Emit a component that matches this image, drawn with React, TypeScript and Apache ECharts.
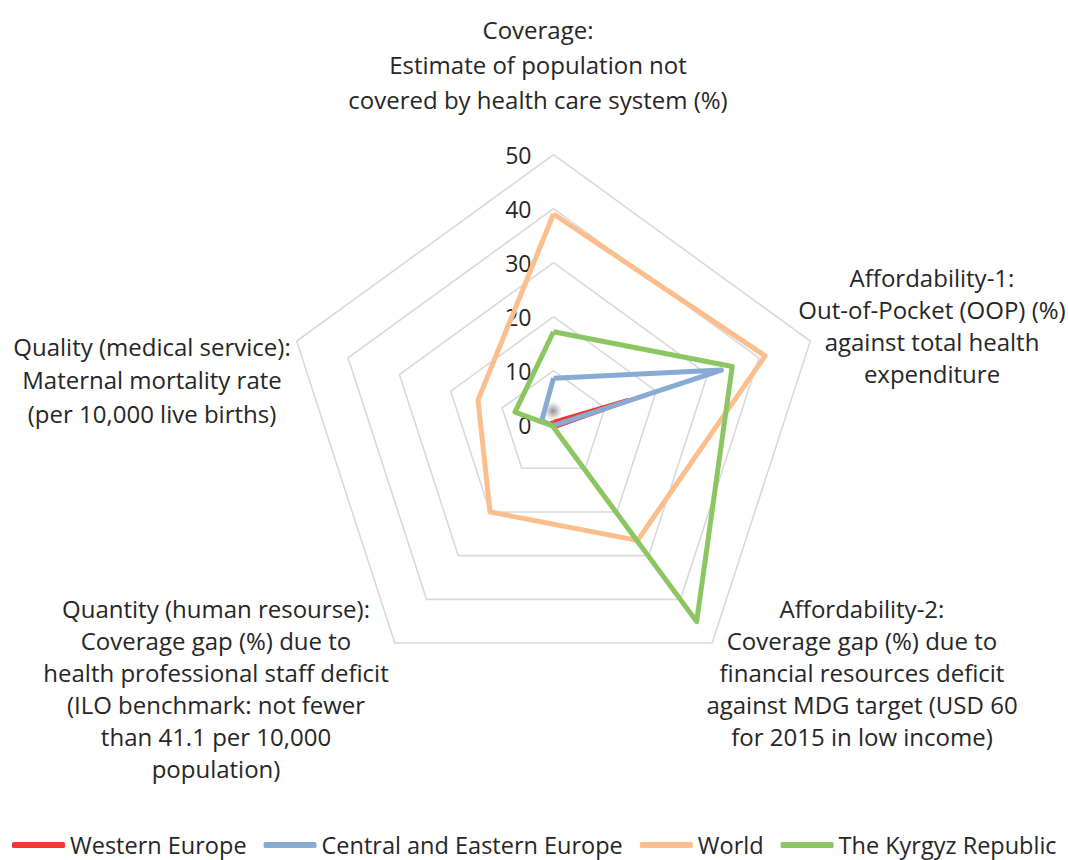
import React, { useEffect, useRef } from "react";
import * as echarts from "echarts";

// Radar indicators, in ECharts order (counter-clockwise starting at the top)
const indicators = [
  "Coverage:\nEstimate of population not\ncovered by health care system (%)",
  "Quality (medical service):\nMaternal mortality rate\n(per 10,000 live births)",
  "Quantity (human resourse):\nCoverage gap (%) due to\nhealth professional staff deficit\n(ILO benchmark: not fewer\nthan 41.1 per 10,000\npopulation)",
  "Affordability-2:\nCoverage gap (%) due to\nfinancial resources deficit\nagainst MDG target (USD 60\nfor 2015 in low income)",
  "Affordability-1:\nOut-of-Pocket (OOP) (%)\nagainst total health\nexpenditure",
];

const seriesNames = [
  "Western Europe",
  "Central and Eastern Europe",
  "World",
  "The Kyrgyz Republic",
];

// Values per indicator, same order as `indicators`
const westernEurope = [0.4, 0.5, 0.3, 0.4, 14.4];
const centralEasternEurope = [8.6, 2.3, 0.2, 0.2, 32.7];
const world = [39, 14.7, 20, 26.5, 41.2];
const kyrgyzRepublic = [17.2, 7.5, 0.3, 45.1, 34.8];

const axisMin = 0;
const axisMax = 50;
const axisSplits = 5;

const seriesColors = ["#EE3A32", "#88ABD3", "#FBBE8C", "#8BC660"];

// Where each indicator's caption block is drawn (centre x, top y, line height)
const captionLayout = [
  { x: 538, y: 12, lh: 35 },
  { x: 152, y: 330, lh: 33.3 },
  { x: 216, y: 592, lh: 32 },
  { x: 862, y: 592, lh: 32 },
  { x: 932, y: 261, lh: 32.2 },
];

const FONT = "'Open Sans', 'Noto Sans', sans-serif";
const TEXT_COLOR = "#262626";

export default function App() {
  const ref = useRef<HTMLDivElement>(null);

  useEffect(() => {
    if (!ref.current) return;
    const chart = echarts.init(ref.current, null, { renderer: "svg" });

    const valueSets = [westernEurope, centralEasternEurope, world, kyrgyzRepublic];

    chart.setOption({
      animation: false,
      backgroundColor: "#ffffff",
      textStyle: { fontFamily: FONT },
      legend: {
        data: seriesNames,
        left: 12,
        top: 833,
        width: 1056,
        padding: 0,
        icon: "roundRect",
        itemWidth: 53,
        itemHeight: 6,
        itemGap: 17,
        textStyle: {
          fontSize: 23.5,
          lineHeight: 24,
          color: TEXT_COLOR,
          fontFamily: FONT,
        },
      },
      radar: {
        center: [553.5, 424.6],
        radius: 270,
        startAngle: 90,
        splitNumber: axisSplits,
        shape: "polygon",
        axisName: { show: false },
        axisLine: { show: false },
        axisTick: { show: false },
        // value labels are shown on the first (top) axis only
        axisLabel: {
          show: true,
          fontSize: 23,
          color: TEXT_COLOR,
          fontFamily: FONT,
          margin: 18,
          formatter: (v: number) => `{t|${v}}`,
          rich: { t: { fontSize: 23, color: TEXT_COLOR, fontFamily: FONT, padding: [0, 4, 0, 0] } },
        },
        splitArea: { show: false },
        splitLine: { lineStyle: { color: "#d9d9d9", width: 1.6 } },
        indicator: indicators.map((name, i) => ({
          name,
          min: axisMin,
          max: axisMax,
          ...(i === 0 ? {} : { axisLabel: { show: false } }),
        })),
      },
      series: seriesNames.map((name, i) => ({
        type: "radar",
        name,
        symbol: "none",
        z: 2 + i,
        lineStyle: { color: seriesColors[i], width: 5 },
        itemStyle: { color: seriesColors[i] },
        data: [{ name, value: valueSets[i] }],
      })),
      graphic: [
        // faint smudge near the centre of the web
        {
          type: "circle",
          shape: { cx: 553, cy: 411, r: 10 },
          style: {
            fill: new echarts.graphic.RadialGradient(0.5, 0.5, 0.5, [
              { offset: 0, color: "rgba(125,125,125,0.85)" },
              { offset: 0.5, color: "rgba(150,150,150,0.45)" },
              { offset: 1, color: "rgba(200,200,200,0)" },
            ]),
          },
          z: 1,
          silent: true,
        },
        ...indicators.map((text, i) => ({
          type: "text",
          x: captionLayout[i].x,
          y: captionLayout[i].y,
          style: {
            text,
            fontSize: 24,
            fontFamily: FONT,
            fill: TEXT_COLOR,
            lineHeight: captionLayout[i].lh,
            textAlign: "center",
            textVerticalAlign: "top",
          },
        })),
      ],
    });

    return () => chart.dispose();
  }, []);

  return (
    <div
      ref={ref}
      style={{
        position: "absolute",
        left: 0,
        top: 0,
        width: 1068,
        height: 860,
        background: "#fff",
      }}
    />
  );
}
